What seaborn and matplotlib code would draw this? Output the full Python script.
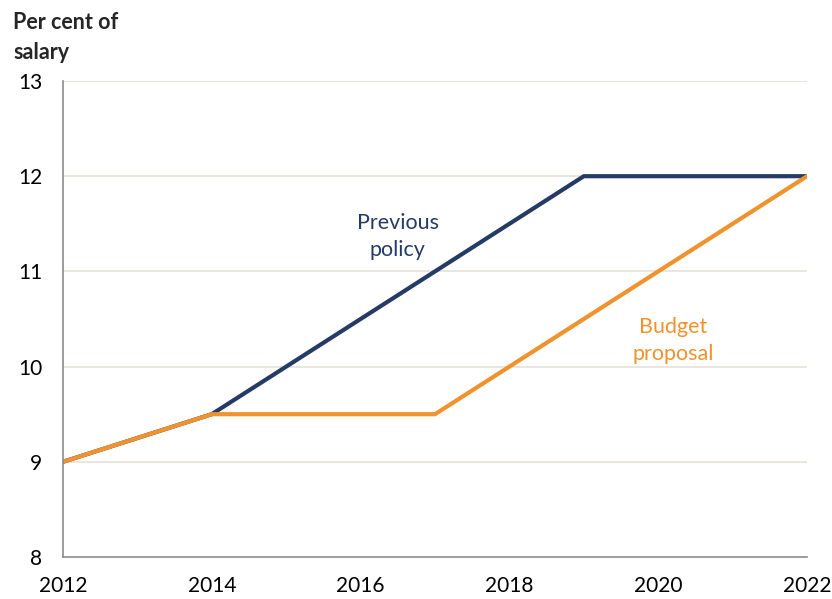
import matplotlib
matplotlib.use("Agg")
import matplotlib.pyplot as plt
import seaborn as sns
import pandas as pd

years = [2012, 2013, 2014, 2015, 2016, 2017, 2018, 2019, 2020, 2021, 2022]
previous_policy = [9.0, 9.25, 9.5, 10.0, 10.5, 11.0, 11.5, 12.0, 12.0, 12.0, 12.0]
budget_proposal = [9.0, 9.25, 9.5, 9.5, 9.5, 9.5, 10.0, 10.5, 11.0, 11.5, 12.0]
series_names = ["Previous policy", "Budget proposal"]
x_ticks = [2012, 2014, 2016, 2018, 2020, 2022]
y_ticks = [8, 9, 10, 11, 12, 13]

NAVY = "#253A65"
ORANGE = "#F0922D"
GRID = "#E6E2D6"
AXIS = "#8C8C8C"
FONT = ["Lato", "DejaVu Sans"]

df = pd.DataFrame({
    "year": years * 2,
    "value": previous_policy + budget_proposal,
    "series": [series_names[0]] * len(years) + [series_names[1]] * len(years),
})

sns.set_theme(style="white")
plt.rcParams["font.family"] = FONT

fig = plt.figure(figsize=(8.32, 5.99), dpi=100)
ax = fig.add_axes([0.0757, 0.0701, 0.8943, 0.7947])

sns.lineplot(data=df, x="year", y="value", hue="series",
             palette={series_names[0]: NAVY, series_names[1]: ORANGE},
             linewidth=3.0, legend=False, ax=ax)

ax.set_xlim(2012, 2022)
ax.set_ylim(8, 13)
ax.set_xticks(x_ticks)
ax.set_yticks(y_ticks)
ax.set_xlabel("")
ax.set_ylabel("")

for y in y_ticks[1:]:
    ax.axhline(y, color=GRID, linewidth=1.2, zorder=0)

for side in ["top", "right"]:
    ax.spines[side].set_visible(False)
for side in ["left", "bottom"]:
    ax.spines[side].set_color(AXIS)
    ax.spines[side].set_linewidth(1.2)

ax.tick_params(axis="both", which="major", direction="out", length=5,
               width=1.2, color=AXIS, labelsize=15, labelcolor="black")
ax.tick_params(axis="x", pad=9)
ax.tick_params(axis="y", pad=10)

fig.text(0.016, 0.963, "Per cent of", fontsize=15.5, fontweight="bold",
         ha="left", va="center")
fig.text(0.016, 0.913, "salary", fontsize=15.5, fontweight="bold",
         ha="left", va="center")

ax.text(2016.5, 11.37, "Previous\npolicy", color=NAVY, fontsize=15.5,
        ha="center", va="center", linespacing=1.45)
ax.text(2020.2, 10.27, "Budget\nproposal", color=ORANGE, fontsize=15.5,
        ha="center", va="center", linespacing=1.45)

fig.savefig("out.png", dpi=100)
